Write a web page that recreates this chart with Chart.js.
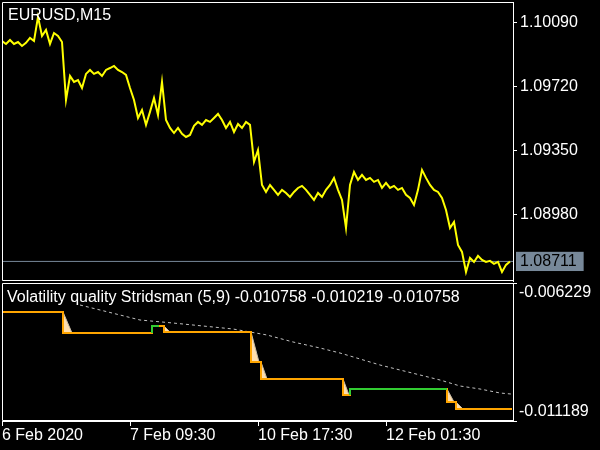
<!DOCTYPE html>
<html><head><meta charset="utf-8">
<script src="https://cdn.jsdelivr.net/npm/chart.js@4.4.1/dist/chart.umd.min.js"></script>
<style>
html,body{margin:0;padding:0;background:#000;width:600px;height:450px;overflow:hidden}
#c1{position:absolute;left:0;top:0}
#c2{position:absolute;left:0;top:283px}
</style></head><body>
<canvas id="c1" width="600" height="283"></canvas>
<canvas id="c2" width="600" height="167"></canvas>
<script>
// ---------- data ----------
const symbolLabel = 'EURUSD,M15';
const indicatorName = 'Volatility quality Stridsman';
const indicatorParams = '(5,9)';
const xTickBars = [0, 128, 256, 384];
const xTickLabels = ['6 Feb 2020', '7 Feb 09:30', '10 Feb 17:30', '12 Feb 01:30'];
const lastBar = 511;
const priceTickValues = [1.10090, 1.09720, 1.09350, 1.08980];
const priceAxisMax = 1.10208;
const priceAxisMin = 1.08598;
const lastPrice = 1.08711;
const priceStepBars = 4; // one sample per hour (4 x M15 bars)
const closePrices = [
1.09983,1.09966,1.09989,1.09966,1.09977,1.09954,1.09972,1.10001,1.09983,1.10122,
1.10012,1.10047,1.09966,1.10029,1.10012,1.09977,1.09643,1.09781,1.09747,1.09758,
1.09712,1.09793,1.09816,1.09793,1.09804,1.09781,1.09816,1.09827,1.09839,1.09816,
1.09804,1.09787,1.09712,1.09643,1.09539,1.09585,1.09499,1.09574,1.09654,1.09556,
1.09747,1.09527,1.09481,1.09452,1.09481,1.09447,1.09429,1.09441,1.09493,1.09516,
1.09499,1.09527,1.09516,1.09539,1.09562,1.09527,1.09481,1.09516,1.09458,1.09504,
1.09481,1.09516,1.09499,1.09285,1.09354,1.09152,1.09112,1.09152,1.09124,1.09095,
1.09124,1.09106,1.09083,1.09112,1.09135,1.09147,1.09124,1.09095,1.09066,1.09106,
1.09083,1.09124,1.09152,1.09193,1.09124,1.09066,1.08904,1.09152,1.09227,1.09181,
1.09210,1.09181,1.09193,1.09170,1.09181,1.09135,1.09164,1.09135,1.09147,1.09124,
1.09135,1.09095,1.09077,1.09037,1.09124,1.09239,1.09193,1.09152,1.09124,1.09112,
1.09077,1.09008,1.08904,1.08939,1.08806,1.08766,1.08650,1.08731,1.08708,1.08743,
1.08720,1.08708,1.08714,1.08697,1.08708,1.08650,1.08691,1.08711
];

const vqAxisMax = -0.006229;
const vqAxisMin = -0.011189;
const vqTickLabels = ['-0.006229', '-0.011189'];
// main VQ line (step)
const vqBars   = [0, 61, 150, 162, 249, 259, 341, 348, 445, 454, 510];
const vqValues = [-0.007271, -0.008026, -0.007774, -0.007990, -0.009068, -0.009679, -0.010254, -0.010039, -0.010506, -0.010758, -0.010758];
// rising (green) sections
const upBars1   = [150, 150, 157];
const upValues1 = [-0.008026, -0.007774, -0.007774];
const upBars2   = [348, 348, 445];
const upValues2 = [-0.010254, -0.010039, -0.010039];
// dotted signal line
const sigBars   = [78, 98, 138, 171, 231, 265, 291, 318, 338, 358, 378, 398, 418, 438, 458, 478, 498, 509];
const sigValues = [-0.007020, -0.007199, -0.007559, -0.007667, -0.007882, -0.008098, -0.008349, -0.008565, -0.008745, -0.008960, -0.009176, -0.009356, -0.009535, -0.009715, -0.009931, -0.010039, -0.010182, -0.010219];
// falling wedges
const wedgeStartBars = [61, 162, 249, 259, 341, 445, 454];
const wedgeEndBars   = [70, 168, 257, 265, 347, 452, 461];
const wedgeTopValues = [-0.007271, -0.007774, -0.007990, -0.009068, -0.009679, -0.010039, -0.010506];
const wedgeBottomValues = [-0.008026, -0.007990, -0.009068, -0.009679, -0.010254, -0.010506, -0.010758];

// ---------- helpers ----------
Chart.defaults.font.family = "'Liberation Sans', Arial, sans-serif";
Chart.defaults.font.size = 16;
Chart.defaults.color = '#ffffff';
const pts = (xs, ys) => xs.map((x, i) => ({x: x, y: ys[i]}));
const fmtVQ = v => v.toFixed(6);

const framePlugin = {
  id: 'frame',
  afterDraw(chart, args, opts) {
    const {ctx, chartArea: a} = chart;
    ctx.save();
    ctx.strokeStyle = '#ffffff';
    ctx.lineWidth = 1;
    ctx.beginPath();
    ctx.moveTo(a.left + 0.5, a.bottom - 0.5);
    ctx.lineTo(a.left + 0.5, a.top + 0.5);
    ctx.lineTo(a.right + 0.5, a.top + 0.5);
    ctx.lineTo(a.right + 0.5, a.bottom - 0.5);
    ctx.lineTo(a.left + 0.5, a.bottom - 0.5);
    ctx.stroke();
    if (opts.text) {
      ctx.fillStyle = '#ffffff';
      ctx.font = "16px 'Liberation Sans', Arial, sans-serif";
      ctx.textBaseline = 'alphabetic';
      ctx.textAlign = 'left';
      ctx.fillText(opts.text, a.left + opts.dx, a.top + opts.dy);
    }
    ctx.restore();
  }
};
const noPadY = s => { s.width = 87; s.paddingTop = 0; s.paddingBottom = 0; };

// ---------- main price chart ----------
new Chart(document.getElementById('c1'), {
  type: 'line',
  data: {
    datasets: [
      {
        data: closePrices.map((p, i) => ({x: i * priceStepBars, y: p})),
        borderColor: '#ffff00', borderWidth: 2, pointRadius: 0, tension: 0
      },
      {
        data: [{x: 0, y: lastPrice}, {x: lastBar, y: lastPrice}],
        borderColor: '#778899', borderWidth: 1, pointRadius: 0
      }
    ]
  },
  options: {
    responsive: false, animation: false, events: [],
    layout: {padding: {left: 2, top: 2, bottom: 2, right: 0}},
    plugins: {legend: {display: false}, tooltip: {enabled: false},
      frame: {text: symbolLabel, dx: 6, dy: 18}},
    scales: {
      x: {type: 'linear', min: 0, max: lastBar, display: false},
      y: {
        position: 'right', min: priceAxisMin, max: priceAxisMax,
        afterBuildTicks: s => { s.ticks = priceTickValues.concat([lastPrice]).map(v => ({value: v})); },
        afterFit: noPadY,
        grid: {drawOnChartArea: false, tickLength: 4,
          color: c => (c.tick && c.tick.value === lastPrice) ? 'rgba(0,0,0,0)' : '#ffffff'},
        border: {color: '#ffffff', width: 1},
        ticks: {
          autoSkip: false, padding: 3,
          callback: v => Number(v).toFixed(5),
          color: c => (c.tick && c.tick.value === lastPrice) ? '#000000' : '#ffffff',
          showLabelBackdrop: c => !!(c.tick && c.tick.value === lastPrice),
          backdropColor: '#778899',
          backdropPadding: {top: 0, bottom: 0, left: 4, right: 7}
        }
      }
    }
  },
  plugins: [framePlugin]
});

// ---------- indicator chart ----------
const vqTitle = indicatorName + ' ' + indicatorParams + ' ' +
  fmtVQ(vqValues[vqValues.length - 1]) + ' ' + fmtVQ(sigValues[sigValues.length - 1]) + ' ' +
  fmtVQ(vqValues[vqValues.length - 1]);

const vqDatasets = [
  {data: pts(upBars1, upValues1), borderColor: '#32cd32', borderWidth: 2, pointRadius: 0},
  {data: pts(upBars2, upValues2), borderColor: '#32cd32', borderWidth: 2, pointRadius: 0},
  {data: pts(vqBars, vqValues), borderColor: '#ffa500', borderWidth: 2, pointRadius: 0, stepped: 'before'},
  {data: pts(sigBars, sigValues), borderColor: '#c0c0c0', borderWidth: 1, borderDash: [3, 3], pointRadius: 0}
];
wedgeStartBars.forEach((b, i) => {
  vqDatasets.push({
    data: [{x: b, y: wedgeTopValues[i]}, {x: wedgeEndBars[i], y: wedgeBottomValues[i]}],
    borderColor: '#c8bca8', borderWidth: 1, pointRadius: 0,
    backgroundColor: '#ffdead', fill: {value: wedgeBottomValues[i]}
  });
});

new Chart(document.getElementById('c2'), {
  type: 'line',
  data: {datasets: vqDatasets},
  options: {
    responsive: false, animation: false, events: [],
    layout: {padding: {left: 2, top: 0, bottom: 0, right: 0}},
    plugins: {legend: {display: false}, tooltip: {enabled: false},
      frame: {text: vqTitle, dx: 5, dy: 19}},
    scales: {
      x: {
        type: 'linear', min: 0, max: lastBar,
        afterBuildTicks: s => { s.ticks = xTickBars.map(v => ({value: v})); },
        afterFit: s => { s.height = 29; s.paddingLeft = 0; s.paddingRight = 0; },
        grid: {drawOnChartArea: false, tickLength: 5, color: '#ffffff'},
        border: {color: '#ffffff', width: 1},
        ticks: {autoSkip: false, maxRotation: 0, align: 'start', padding: 0,
          callback: v => xTickLabels[xTickBars.indexOf(v)]}
      },
      y: {
        position: 'right', min: vqAxisMin, max: vqAxisMax,
        afterBuildTicks: s => { s.ticks = [{value: vqAxisMax}, {value: vqAxisMin}]; },
        afterFit: noPadY,
        grid: {drawOnChartArea: false, tickLength: 4, color: '#ffffff'},
        border: {color: '#ffffff', width: 1},
        ticks: {autoSkip: false, padding: 2,
          callback: v => v === vqAxisMax ? ['', vqTickLabels[0]] : [vqTickLabels[1], '']}
      }
    }
  },
  plugins: [framePlugin]
});
</script>
</body></html>
